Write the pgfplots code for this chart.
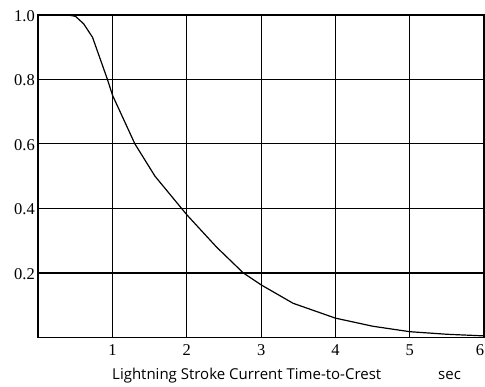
\documentclass[border=0pt]{standalone}
\usepackage{pgfplots}
\pgfplotsset{compat=1.18}
\usepackage{fontspec}
\setmainfont{Liberation Serif}
\newfontfamily\labelfont{Open Sans}
\newfontfamily\tickfont{Liberation Serif}
\begin{document}
\begin{tikzpicture}[x=1pt,y=1pt]
\useasboundingbox (-38.3,-48.5) rectangle (446.7,337.5);
\begin{axis}[
  at={(0,0)}, anchor=south west,
  scale only axis, width=445.7pt, height=322.8pt,
  xmin=0, xmax=6, ymin=0, ymax=1,
  xtick={1,2,3,4,5}, xticklabels={1,2,3,4,5},
  ytick={0.2,0.4,0.6,0.8,1.0}, yticklabels={0.2,0.4,0.6,0.8,1.0},
  extra x ticks={6}, extra x tick labels={6},
  extra x tick style={grid=none, xticklabel style={xshift=-4pt}},
  tick label style={font=\tickfont\fontsize{16.5}{16.5}\selectfont},
  major tick length=0pt,
  xtick pos=bottom, ytick pos=left,
  grid=major,
  major grid style={black, line width=1.2pt},
  axis line style={black, line width=1.8pt},
  xticklabel style={yshift=-3.5pt},
  yticklabel style={yshift=-1pt},
  xlabel={\labelfont\fontsize{15}{15}\selectfont Lightning Stroke Current Time-to-Crest\hspace{3.8em}sec},
  xlabel style={at={(axis description cs:0.557,0)}, anchor=north, yshift=-27pt},
]
\addplot[black, line width=1.2pt] coordinates {
(0,1.0) (0.4,0.999) (0.5,0.995) (0.61,0.972) (0.73,0.93) (0.93,0.80) (1.0,0.75)
(1.30,0.60) (1.57,0.50) (2.0,0.38) (2.4,0.28) (2.76,0.20) (3.0,0.163)
(3.43,0.106) (4.0,0.06) (4.5,0.035) (5.0,0.018) (5.5,0.01) (6.0,0.005)
};
\end{axis}
\end{tikzpicture}
\end{document}
